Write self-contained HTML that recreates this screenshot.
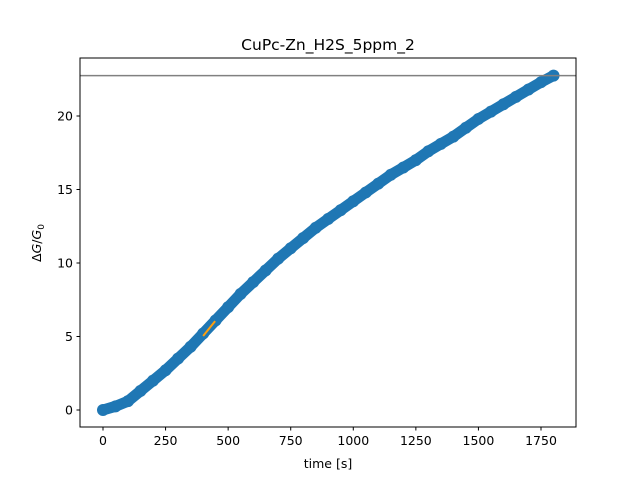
<!DOCTYPE html>
<html><head><meta charset="utf-8"><style>
body{margin:0;background:#fff;font-family:"Liberation Sans","DejaVu Sans",sans-serif}
svg text{font-family:"DejaVu Sans","Liberation Sans",sans-serif;}
</style></head><body>
<svg id="c" width="640" height="480" xmlns="http://www.w3.org/2000/svg"></svg>
<script>
const times=[0,50,100,150,200,250,300,350,400,450,500,550,600,650,700,750,800,850,900,950,1000,1050,1100,1150,1200,1250,1300,1350,1400,1450,1500,1550,1600,1650,1700,1750,1800];
const values=[0,0.25,0.6,1.3,2.0,2.7,3.5,4.3,5.2,6.1,7.0,7.9,8.7,9.5,10.3,11.0,11.7,12.4,13.0,13.6,14.2,14.8,15.4,16.0,16.5,17.0,17.6,18.1,18.6,19.2,19.8,20.3,20.8,21.3,21.8,22.3,22.75];
const fitT=[400,448];
const fitV=[5.03,6.05];
const refLevel=[22.75];
const xTicks=[0,250,500,750,1000,1250,1500,1750];
const yTicks=[0,5,10,15,20];
const L=80,R=576,T=58,B=427;
const X=t=>103+t*(438/1750);
const Y=v=>410-v*(294/20);
const svg=document.getElementById('c');
const NS='http://www.w3.org/2000/svg';
function mk(tag,attrs,parent){const e=document.createElementNS(NS,tag);for(const k in attrs)e.setAttribute(k,attrs[k]);(parent||svg).appendChild(e);return e;}
const t=mk('text',{x:328,y:50,'text-anchor':'middle','font-size':15.5});t.textContent='CuPc-Zn_H2S_5ppm_2';


const g=mk('g',{});


let pts=times.map((tt,i)=>X(tt)+','+Y(values[i])).join(' ');
mk('polyline',{points:pts,fill:'none',stroke:'#1f77b4','stroke-width':11,'stroke-linejoin':'round','stroke-linecap':'round'},g);
times.forEach((tt,i)=>{const c=mk('circle',{cx:X(tt),cy:Y(values[i]),r:6,fill:'#1f77b4'},g);

});
const fl=mk('line',{x1:X(fitT[0]),y1:Y(fitV[0]),x2:X(fitT[1]),y2:Y(fitV[1]),stroke:'#ff9f0e','stroke-width':2});


const hl=mk('line',{x1:L,x2:R,y1:Y(refLevel[0]),y2:Y(refLevel[0]),stroke:'#808080','stroke-width':1.5});


const fr=mk('rect',{x:L,y:T,width:R-L,height:B-T,fill:'none',stroke:'#000','stroke-width':1});


xTicks.forEach(v=>{mk('line',{x1:X(v),x2:X(v),y1:B,y2:B+3.5,stroke:'#000'});
const tx=mk('text',{x:X(v),y:B+18,'text-anchor':'middle','font-size':12.5});tx.textContent=v;

});
yTicks.forEach(v=>{mk('line',{x1:L-3.5,x2:L,y1:Y(v),y2:Y(v),stroke:'#000'});
const tx=mk('text',{x:L-7,y:Y(v)+4.5,'text-anchor':'end','font-size':12.5});tx.textContent=v;

});
const xl=mk('text',{x:328,y:468,'text-anchor':'middle','font-size':12.5});xl.textContent='time [s]';


const yl=mk('text',{x:0,y:0,'text-anchor':'middle','font-size':12.5,transform:'translate(41,243) rotate(-90)'});
yl.innerHTML='<tspan>Δ</tspan><tspan font-style="italic">G</tspan>/<tspan font-style="italic">G</tspan><tspan font-size="9" dy="3">0</tspan>';


</script>
</body></html>
